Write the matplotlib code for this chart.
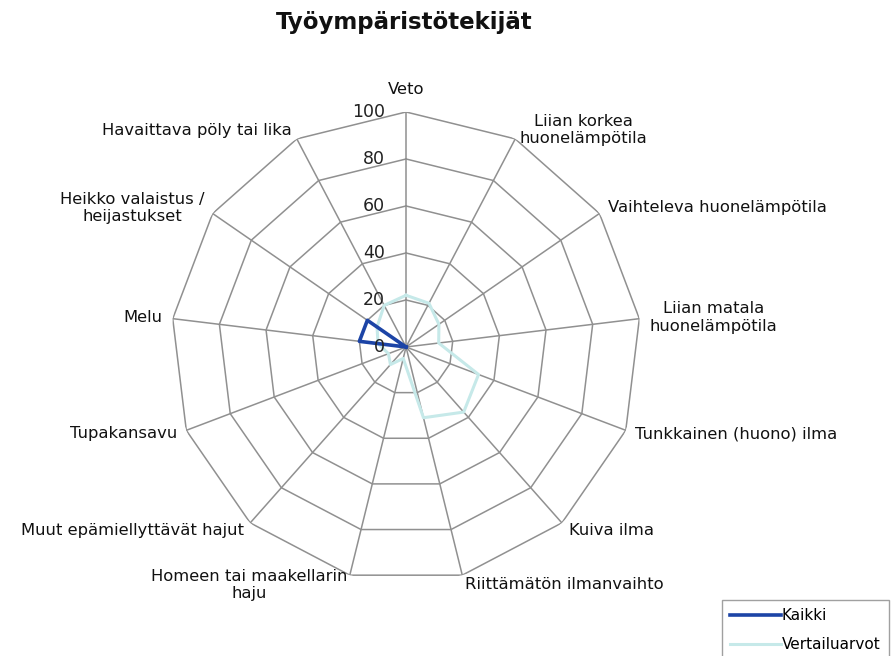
import numpy as np
import matplotlib
matplotlib.use('Agg')
import matplotlib.pyplot as plt

# categories clockwise from the top
categories = ['Veto', 'Liian korkea\nhuonelämpötila', 'Vaihteleva huonelämpötila',
              'Liian matala\nhuonelämpötila', 'Tunkkainen (huono) ilma', 'Kuiva ilma',
              'Riittämätön ilmanvaihto', 'Homeen tai maakellarin\nhaju',
              'Muut epämiellyttävät hajut', 'Tupakansavu', 'Melu',
              'Heikko valaistus /\nheijastukset', 'Havaittava pöly tai lika']
kaikki = [0, 0, 0, 0, 0, 0, 0, 0, 0, 0, 20, 20, 0]
vertailu = [22, 21, 17, 14, 33, 37, 31, 5, 10, 8, 12, 15, 20]
rings = [20, 40, 60, 80, 100]
tick_labels = ['0', '20', '40', '60', '80', '100']

n = len(categories)
theta = np.arange(n) * 2 * np.pi / n
theta_c = np.append(theta, theta[0])

fig = plt.figure(figsize=(8.92, 6.56), dpi=100)
ax = fig.add_axes([0.1917, 0.1128, 0.527, 0.7165], projection='polar')
ax.set_theta_zero_location('N')
ax.set_theta_direction(-1)
ax.set_ylim(0, 100)
ax.grid(False)
ax.spines['polar'].set_visible(False)
ax.set_xticks([])
ax.set_yticks([])
ax.patch.set_alpha(0)

# polygon grid
for r in rings:
	ax.plot(theta_c, [r] * (n + 1), color='#909090', lw=1.1, zorder=1)
for t in theta:
	ax.plot([t, t], [0, 100], color='#909090', lw=1.1, zorder=1)

# series
ax.plot(theta_c, np.append(vertailu, vertailu[0]), color='#c6e9e9', lw=2.2, zorder=2, label='Vertailuarvot')
ax.plot(theta_c, np.append(kaikki, kaikki[0]), color='#1c44a6', lw=2.6, zorder=3, label='Kaikki')

# value labels along the top spoke
for i, lab in enumerate(tick_labels):
	ax.annotate(lab, xy=(0, i * 20), xytext=(-15, 0), textcoords='offset points',
				ha='right', va='center', fontsize=12.5, color='#222222')

# category labels
for t, lab in zip(theta, categories):
	s = np.sin(t)
	c = np.cos(t)
	if abs(s) < 0.05:
		ha = 'center'
	elif s > 0:
		ha = 'left'
	else:
		ha = 'right'
	va = 'center'
	off = 7.2
	if c > 0.99:
		off = 16
	ax.annotate(lab, xy=(t, 100), xytext=(off * s, off * c), textcoords='offset points',
				ha=ha, va=va, multialignment='center', fontsize=11.8, color='#111111',
				annotation_clip=False)

fig.text(0.453, 0.966, 'Työympäristötekijät', ha='center', va='center',
		 fontsize=16.5, fontweight='bold', color='#111111')

handles, labels = ax.get_legend_handles_labels()
leg = fig.legend(handles[::-1], labels[::-1], loc='upper left',
				 bbox_to_anchor=(722 / 892, 1 - 600 / 656), borderaxespad=0,
				 frameon=True, fancybox=False, edgecolor='#888888', handlelength=3.3,
				 handletextpad=0.05, fontsize=11, borderpad=0.55, labelspacing=0.9)
leg.get_frame().set_linewidth(1.0)

fig.savefig('out.png', dpi=100)
